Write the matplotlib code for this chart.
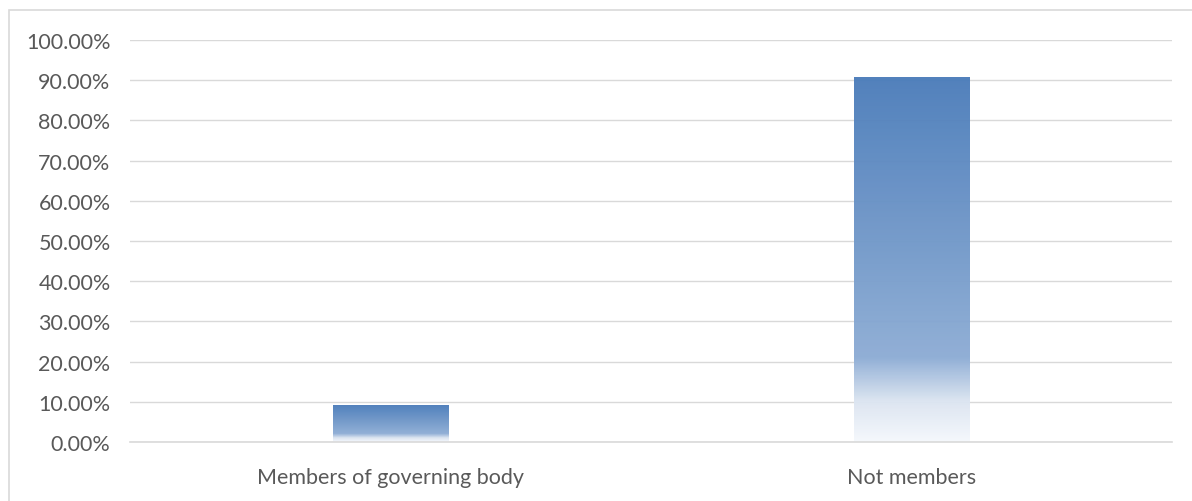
import numpy as np
import matplotlib.pyplot as plt
from matplotlib.colors import LinearSegmentedColormap
from matplotlib.patches import Rectangle
from matplotlib.ticker import PercentFormatter

categories = ["Members of governing body", "Not members"]
shares = [0.092, 0.908]
yticks = [0.0, 0.1, 0.2, 0.3, 0.4, 0.5, 0.6, 0.7, 0.8, 0.9, 1.0]

plt.rcParams['font.family'] = ['Lato', 'DejaVu Sans']

W, H = 1192, 502
fig = plt.figure(figsize=(W / 100, H / 100), dpi=100)
ax = fig.add_axes([130 / W, (H - 443) / H, (1172 - 130) / W, (443 - 41) / H])

# light outer frame of the chart area, cut off at the right/bottom edge
fig.patches.append(Rectangle((9 / W, -0.1), 1.2, (H - 11) / H + 0.1,
                             transform=fig.transFigure, fill=False,
                             edgecolor='#D9D9D9', linewidth=1.2))

# bottom-to-top gradient (white at the base, blue at the top)
grad = LinearSegmentedColormap.from_list("bar", [
    (0.0, (245/255, 248/255, 252/255)),
    (0.11, (220/255, 229/255, 241/255)),
    (0.23, (142/255, 173/255, 213/255)),
    (1.0, (76/255, 125/255, 186/255)),
])

width = 0.222
x = np.arange(len(categories))
bars = ax.bar(x, shares, width=width, color='none', zorder=3)
for b in bars:
    x0, y0 = b.get_x(), b.get_y()
    w, h = b.get_width(), b.get_height()
    img = ax.imshow(np.linspace(0, 1, 256).reshape(-1, 1), cmap=grad,
                    extent=[x0, x0 + w, y0, y0 + h], origin='lower',
                    aspect='auto', alpha=0.97, zorder=2)
    img.set_clip_path(b)

ax.set_xlim(-0.5, len(categories) - 0.5)
ax.set_ylim(0, 1.0)
ax.set_yticks(yticks)
ax.yaxis.set_major_formatter(PercentFormatter(1.0, decimals=2))
ax.set_xticks(x)
ax.set_xticklabels(categories)
ax.grid(axis='y', color='#D9D9D9', linewidth=1.0, zorder=1)
ax.set_axisbelow(True)
for side in ['top', 'right', 'left']:
    ax.spines[side].set_visible(False)
ax.spines['bottom'].set_color('#D9D9D9')
ax.spines['bottom'].set_linewidth(1.2)
ax.tick_params(axis='both', length=0, labelsize=15.5, colors='#595959')
ax.tick_params(axis='y', pad=14)
ax.tick_params(axis='x', pad=18)

plt.savefig("out.png", dpi=100)
plt.close()
